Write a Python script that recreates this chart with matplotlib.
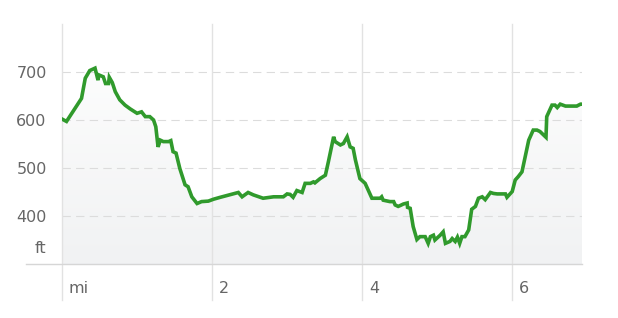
import numpy as np
import matplotlib
matplotlib.use("Agg")
import matplotlib.pyplot as plt
from matplotlib.transforms import blended_transform_factory

# elevation profile
dist_mi = [0.00, 0.06, 0.26, 0.31, 0.37, 0.44, 0.48, 0.49, 0.55, 0.58,
           0.62, 0.63, 0.67, 0.71, 0.77, 0.84, 0.91, 0.95, 1.00, 1.06,
           1.11, 1.17, 1.22, 1.25, 1.28, 1.31, 1.35, 1.42, 1.45, 1.48,
           1.52, 1.57, 1.64, 1.68, 1.73, 1.80, 1.86, 1.95, 2.02, 2.11,
           2.28, 2.35, 2.40, 2.48, 2.55, 2.68, 2.82, 2.95, 3.00, 3.04,
           3.08, 3.13, 3.20, 3.24, 3.31, 3.35, 3.37, 3.44, 3.51, 3.55,
           3.62, 3.64, 3.71, 3.75, 3.80, 3.84, 3.88, 3.91, 3.97, 4.04,
           4.13, 4.24, 4.26, 4.28, 4.37, 4.42, 4.44, 4.48, 4.51, 4.55,
           4.60, 4.605, 4.64, 4.68, 4.73, 4.77, 4.84, 4.88, 4.91, 4.95,
           4.97, 5.04, 5.08, 5.11, 5.17, 5.20, 5.24, 5.27, 5.30, 5.33,
           5.37, 5.42, 5.46, 5.51, 5.55, 5.60, 5.64, 5.71, 5.75, 5.80,
           5.91, 5.93, 6.00, 6.04, 6.08, 6.13, 6.22, 6.28, 6.33, 6.37,
           6.45, 6.46, 6.53, 6.57, 6.60, 6.64, 6.71, 6.86, 6.91, 6.93]
elev_ft = [602, 597, 645, 687, 703, 708, 683, 694, 690, 676,
           676, 689, 678, 659, 642, 631, 623, 619, 614, 617,
           607, 607, 600, 586, 544, 558, 555, 555, 557, 534,
           531, 499, 465, 461, 440, 426, 430, 431, 435, 439,
           446, 449, 440, 449, 444, 437, 440, 440, 446, 445,
           439, 453, 449, 468, 468, 471, 469, 478, 485, 513,
           565, 555, 548, 551, 565, 544, 541, 517, 478, 468,
           437, 437, 440, 433, 430, 430, 423, 420, 422, 425,
           427, 418, 416, 378, 351, 357, 357, 343, 357, 360,
           350, 360, 367, 343, 347, 353, 347, 356, 343, 357,
           357, 371, 414, 420, 437, 440, 434, 449, 447, 446,
           446, 439, 451, 475, 482, 492, 558, 579, 579, 576,
           564, 607, 631, 631, 626, 633, 629, 629, 633, 633]

y_ticks = [400, 500, 600, 700]
x_ticks = [0, 2, 4, 6]
x_labels = ["mi", "2", "4", "6"]

text_col = "#666666"
plt.rcParams["font.family"] = "DejaVu Sans"
plt.rcParams["lines.scale_dashes"] = False

fig = plt.figure(figsize=(6.18, 3.18), dpi=100)
ax = fig.add_axes([62 / 618, 54 / 318, 520 / 618, 240 / 318])
x0, x1 = 0, dist_mi[-1]
ax.set_xlim(x0, x1)
ax.set_ylim(300, 800)
for s in ax.spines.values():
    s.set_visible(False)

# light gradient under the profile
grad = np.linspace(0, 1, 256).reshape(-1, 1)
top = np.array([1.0, 1.0, 1.0])
bot = np.array([0.945, 0.949, 0.953])
img = top + (bot - top) * grad[..., None] * np.ones((1, 1, 3))
poly = ax.fill_between(dist_mi, elev_ft, 300, color="none", lw=0)
im = ax.imshow(img, extent=[x0, x1, 300, 800], aspect="auto", origin="upper", zorder=1)
im.set_clip_path(poly.get_paths()[0], transform=ax.transData)

for y in y_ticks:
    ax.plot([x0, x1], [y, y], color="#dcdcdc", lw=0.8, ls=(0, (6, 3.8)), zorder=2)
for x in x_ticks:
    ax.axvline(x, ymin=-0.15, ymax=1, color="#e2e2e2", lw=1.0, clip_on=False, zorder=2)
ax.axhline(300, xmin=-36 / 520, xmax=1, color="#d6d6d6", lw=1.0, clip_on=False, zorder=2)

ax.plot(dist_mi, elev_ft, color="#309a2c", lw=2.6, zorder=4, solid_joinstyle="miter")

ax.set_xticks([])
ax.set_yticks(y_ticks)
ax.set_yticklabels([str(v) for v in y_ticks])
ax.tick_params(axis="y", length=0, pad=11, labelsize=11.5, labelcolor=text_col)
tr = blended_transform_factory(ax.transAxes, ax.transData)
ax.annotate("ft", xy=(0, 333), xycoords=tr, xytext=(-11, 0), textcoords="offset points",
            ha="right", va="center", fontsize=11.5, color=text_col)
for x, lab in zip(x_ticks, x_labels):
    ax.annotate(lab, xy=(x, -0.104), xycoords=("data", "axes fraction"), xytext=(5, 0),
                textcoords="offset points", ha="left", va="center", fontsize=11.5, color=text_col)

fig.savefig("out.png", dpi=100)
